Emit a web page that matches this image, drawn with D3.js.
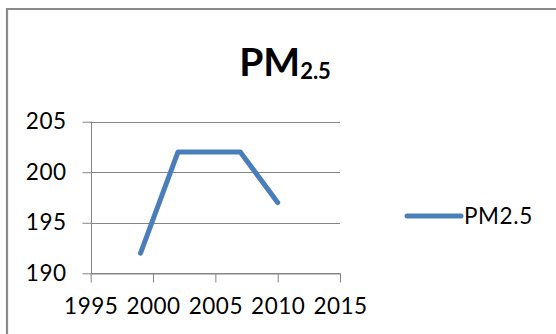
<!DOCTYPE html>
<html>
<head>
<meta charset="utf-8">
<script src="https://cdn.jsdelivr.net/npm/d3@7"></script>
<style>
  html, body { margin: 0; padding: 0; background: #fff; }
  svg { display: block; }
  text { font-family: Lato, "Open Sans", sans-serif; fill: #000; }
</style>
</head>
<body>
<svg id="chart" width="556" height="334"></svg>
<script>
// Series: PM2.5 by year
const years = [1999, 2002, 2007, 2010];
const values = [192, 202, 202, 197];

// Axis ticks
const xTicks = [1995, 2000, 2005, 2010, 2015];
const yTicks = [190, 195, 200, 205];

const seriesName = "PM2.5";
const titleMain = "PM";
const titleSub = "2.5";

const svg = d3.select("#chart");
const W = 556, H = 334;

const gridColor = "#868686";
const lineColor = "#4a7ebb";
const labelSize = 22.5;

// Chart frame (top and left edges visible)
svg.append("path")
  .attr("d", `M7,${H} L7,9 L${W},9`)
  .attr("fill", "none")
  .attr("stroke", "#8a8a8a")
  .attr("stroke-width", 2.2);

// Plot area
const x = d3.scaleLinear().domain([1995, 2015]).range([90.7, 340]);
const y = d3.scaleLinear().domain([190, 205]).range([273.3, 121.7]);

const plot = svg.append("g");

// Horizontal gridlines
plot.append("g")
  .selectAll("line")
  .data(yTicks)
  .join("line")
  .attr("x1", x.range()[0])
  .attr("x2", x.range()[1])
  .attr("y1", d => Math.round(y(d)) + 0.5)
  .attr("y2", d => Math.round(y(d)) + 0.5)
  .attr("stroke", gridColor)
  .attr("stroke-width", 1);

// Y axis
const yAxis = d3.axisLeft(y)
  .tickValues(yTicks)
  .tickFormat(d3.format("d"))
  .tickSizeInner(9)
  .tickSizeOuter(0)
  .tickPadding(16);

const yg = plot.append("g")
  .attr("transform", `translate(${Math.round(x.range()[0]) + 0.5},0)`)
  .call(yAxis);
yg.select(".domain").remove();
yg.selectAll(".tick line").attr("stroke", gridColor);
yg.selectAll(".tick text")
  .attr("font-size", labelSize)
  .style("letter-spacing", "0.5px")
  .attr("fill", "#111");

// Y axis line
plot.append("line")
  .attr("x1", Math.round(x.range()[0]) + 0.5)
  .attr("x2", Math.round(x.range()[0]) + 0.5)
  .attr("y1", y(205))
  .attr("y2", y(190))
  .attr("stroke", gridColor);

// X axis
const xAxis = d3.axisBottom(x)
  .tickValues(xTicks)
  .tickFormat(d3.format("d"))
  .tickSizeInner(9)
  .tickSizeOuter(0)
  .tickPadding(16);

const xg = plot.append("g")
  .attr("transform", `translate(0,${Math.round(y.range()[0]) + 0.5})`)
  .call(xAxis);
xg.select(".domain").attr("stroke", gridColor);
xg.selectAll(".tick line").attr("stroke", gridColor);
xg.selectAll(".tick text")
  .attr("font-size", labelSize)
  .style("letter-spacing", "0.5px")
  .attr("fill", "#111");

// Data line
const line = d3.line()
  .x((d, i) => x(years[i]))
  .y(d => y(d));

plot.append("path")
  .datum(values)
  .attr("d", line)
  .attr("fill", "none")
  .attr("stroke", lineColor)
  .attr("stroke-width", 5)
  .attr("stroke-linejoin", "round")
  .attr("stroke-linecap", "round");

// Title with subscript
const title = svg.append("text")
  .attr("x", 285)
  .attr("y", 76)
  .attr("text-anchor", "middle")
  .attr("font-weight", "bold");
title.append("tspan")
  .attr("font-size", 39)
  .text(titleMain);
title.append("tspan")
  .attr("font-size", 22)
  .attr("dy", 3)
  .text(titleSub);

// Legend
const legend = svg.append("g").attr("transform", "translate(407,216)");
legend.append("line")
  .attr("x1", 0)
  .attr("x2", 54)
  .attr("y1", 0)
  .attr("y2", 0)
  .attr("stroke", lineColor)
  .attr("stroke-width", 5)
  .attr("stroke-linecap", "round");
legend.append("text")
  .attr("x", 57)
  .attr("y", 0)
  .attr("dy", "0.35em")
  .attr("font-size", labelSize)
  .style("letter-spacing", "0.6px")
  .attr("fill", "#111")
  .text(seriesName);
</script>
</body>
</html>
